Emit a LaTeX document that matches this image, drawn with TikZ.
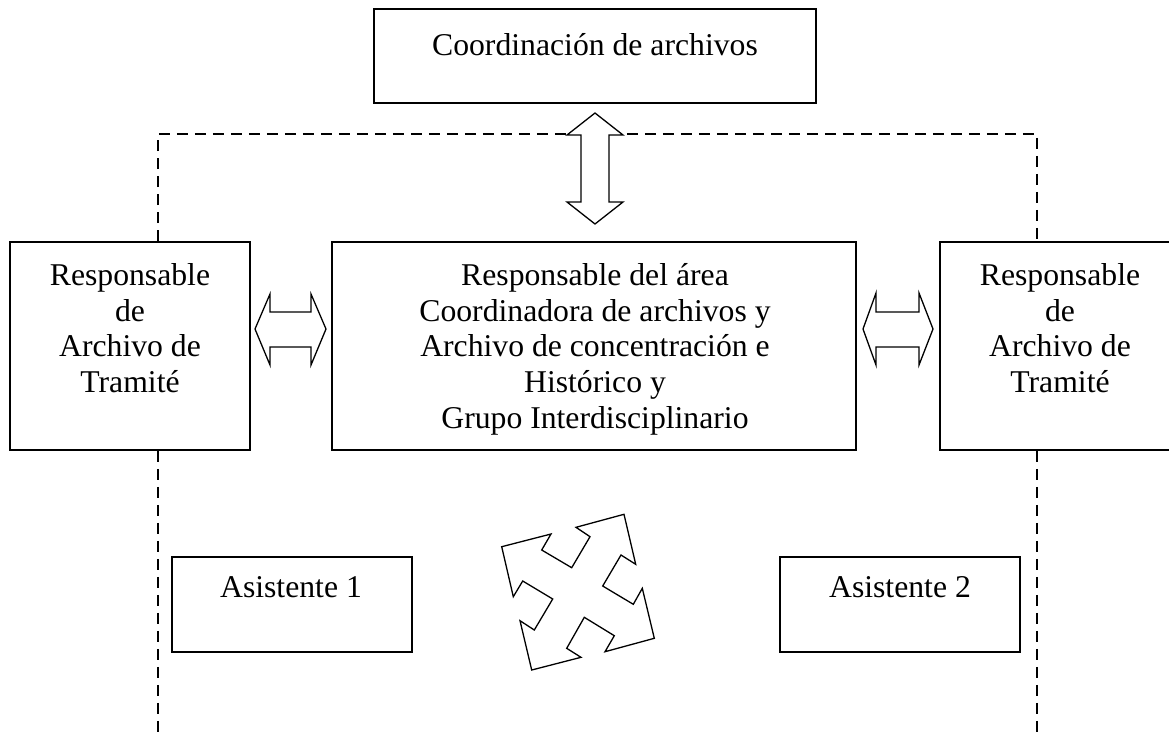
\documentclass[tikz,border=0pt]{standalone}
\usepackage{fontspec}
\setmainfont{Liberation Serif}
\begin{document}
\begin{tikzpicture}[x=1pt,y=-1pt,
  box/.style={draw, line width=1.8pt, rectangle, inner sep=0pt},
  txt/.style={inner sep=0pt, anchor=north, align=center, font=\fontsize{31.7}{35.8}\selectfont},
  blockarrow/.style={draw, fill=white, line width=1.3pt, line join=miter},
  dashline/.style={line width=2pt, dash pattern=on 11pt off 7pt}]
\useasboundingbox (0,0) rectangle (1169,734);

% boxes
\node[box, minimum width=442pt, minimum height=94pt] (top) at (595,56) {};
\node[box, minimum width=240pt, minimum height=208pt] (left) at (130,346) {};
\node[box, minimum width=524pt, minimum height=208pt] (center) at (594,346) {};
\node[box, minimum width=240pt, minimum height=208pt] (right) at (1060,346) {};
\node[box, minimum width=240pt, minimum height=95pt] (as1) at (292,604.5) {};
\node[box, minimum width=240pt, minimum height=95pt] (as2) at (900,604.5) {};

% texts
\node[txt] (toptext) at (595,30) {\strut Coordinación de archivos};
\node[txt] (lefttext) at (130,260) {\strut Responsable\\de\\Archivo de\\Tramité};
\node[txt] (centertext) at (595,260) {\strut Responsable del área\\Coordinadora de archivos y\\Archivo de concentración e\\Histórico y\\Grupo Interdisciplinario};
\node[txt] (righttext) at (1060,260) {\strut Responsable\\de\\Archivo de\\Tramité};
\node[txt] (as1text) at (291,572) {\strut Asistente 1};
\node[txt] (as2text) at (900,572) {\strut Asistente 2};

% dashed frame
\coordinate (dl) at (158,134);
\coordinate (dr) at (1037,134);
\coordinate (bl) at (158,734);
\coordinate (br) at (1037,734);
\draw[dashline] (dl |- left.north) -- (dl) -- (dr) -- (dr |- right.north);
\draw[dashline] (dl |- left.south) -- (bl);
\draw[dashline] (dr |- right.south) -- (br);

% vertical double block arrow
\draw[blockarrow] (595,113) -- (623,135) -- (609,135) -- (609,202) -- (623,202) -- (595,224)
  -- (567,202) -- (581,202) -- (581,135) -- (567,135) -- cycle;

% left horizontal double block arrow
\draw[blockarrow] (255,329) -- (270,294) -- (270,312) -- (311,312) -- (311,294) -- (326,329)
  -- (311,365) -- (311,347) -- (270,347) -- (270,365) -- cycle;

% right horizontal double block arrow
\draw[blockarrow] (863,329) -- (876,293) -- (876,312) -- (919,312) -- (919,293) -- (933,329)
  -- (919,365) -- (919,347) -- (876,347) -- (876,365) -- cycle;

% four-way block arrow
\draw[blockarrow] (501.7,546.7) -- (551,534) -- (541.7,550) -- (571.7,567.7) -- (590,536.7)
  -- (576,527.3) -- (624,514.3) -- (635.7,564.3) -- (621,555) -- (602.7,586)
  -- (633.3,604.3) -- (642.3,588.3) -- (654.3,638.3) -- (605,651.7) -- (614.3,635.7)
  -- (584.3,617.3) -- (566.7,648.3) -- (581,657.3) -- (531.7,670) -- (520,620.7)
  -- (534.3,630) -- (552.7,599) -- (522.7,581) -- (513.3,596.7) -- cycle;
\end{tikzpicture}
\end{document}
